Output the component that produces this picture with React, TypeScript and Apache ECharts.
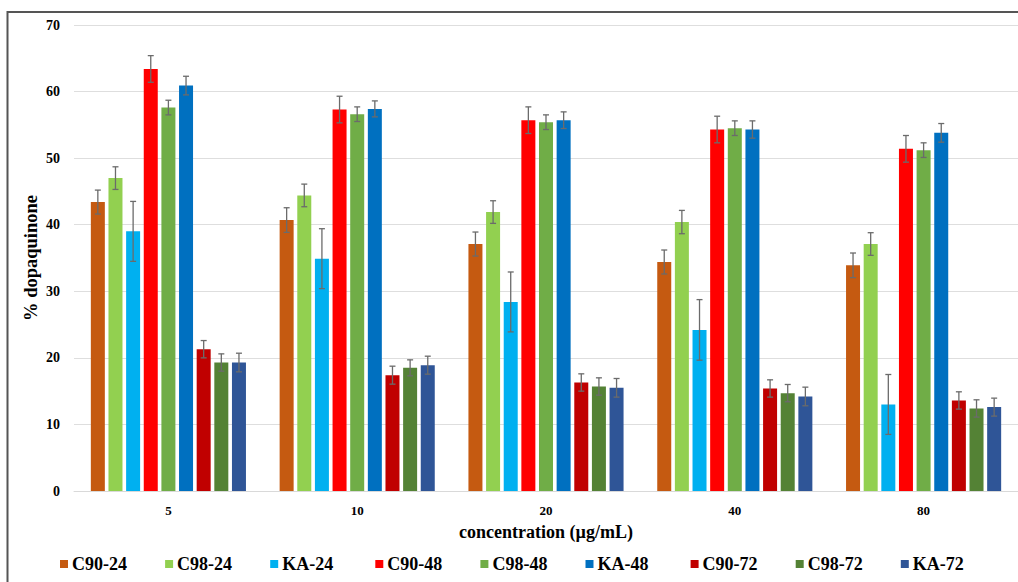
import React, { useEffect, useRef } from "react";
import * as echarts from "echarts";

const categories = ["5", "10", "20", "40", "80"];
const seriesNames = ["C90-24", "C98-24", "KA-24", "C90-48", "C98-48", "KA-48", "C90-72", "C98-72", "KA-72"];
const seriesColors = ["#C55A11", "#92D050", "#00B0F0", "#FF0000", "#70AD47", "#0070C0", "#C00000", "#548235", "#2F5597"];

const c90_24 = [43.4, 40.7, 37.1, 34.4, 33.9];
const c98_24 = [47.0, 44.4, 41.9, 40.4, 37.1];
const ka_24 = [39.0, 34.9, 28.4, 24.2, 13.0];
const c90_48 = [63.4, 57.3, 55.7, 54.3, 51.4];
const c98_48 = [57.6, 56.6, 55.4, 54.5, 51.2];
const ka_48 = [60.9, 57.4, 55.7, 54.3, 53.8];
const c90_72 = [21.3, 17.4, 16.3, 15.4, 13.6];
const c98_72 = [19.3, 18.5, 15.7, 14.7, 12.4];
const ka_72 = [19.3, 18.9, 15.5, 14.2, 12.6];

const err_c90_24 = [1.8, 1.85, 1.8, 1.8, 1.85];
const err_c98_24 = [1.7, 1.7, 1.7, 1.75, 1.7];
const err_ka_24 = [4.5, 4.5, 4.5, 4.55, 4.5];
const err_c90_48 = [2.0, 2.0, 2.0, 2.0, 2.0];
const err_c98_48 = [1.1, 1.1, 1.1, 1.1, 1.1];
const err_ka_48 = [1.4, 1.2, 1.25, 1.3, 1.4];
const err_c90_72 = [1.3, 1.35, 1.3, 1.3, 1.3];
const err_c98_72 = [1.3, 1.2, 1.3, 1.3, 1.3];
const err_ka_72 = [1.4, 1.35, 1.4, 1.4, 1.35];

const yTicks = [0, 10, 20, 30, 40, 50, 60, 70];

const values = [c90_24, c98_24, ka_24, c90_48, c98_48, ka_48, c90_72, c98_72, ka_72];
const errors = [err_c90_24, err_c98_24, err_ka_24, err_c90_48, err_c98_48, err_ka_48, err_c90_72, err_c98_72, err_ka_72];

const BAR_W = 14;
const BAR_GAP = 0.26;
const FONT = "Liberation Serif";
const LEGEND_LEFT = 60;
const LEGEND_STEP = 105.1;

export default function App() {
  const ref = useRef<HTMLDivElement>(null);
  useEffect(() => {
    if (!ref.current) return;
    const chart = echarts.init(ref.current, null, { renderer: "svg" });
    const step = BAR_W * (1 + BAR_GAP);
    const errData: number[][] = [];
    values.forEach((vals, s) => {
      vals.forEach((v, c) => {
        errData.push([c, v, errors[s][c], s]);
      });
    });
    const barSeries = seriesNames.map((name, i) => ({
      name,
      type: "bar",
      data: values[i],
      barWidth: BAR_W,
      barGap: BAR_GAP * 100 + "%",
      itemStyle: { color: seriesColors[i] },
      z: 2,
    }));
    const legends = seriesNames.map((name, i) => ({
      data: [name],
      left: LEGEND_LEFT + i * LEGEND_STEP,
      top: 555,
      itemWidth: 8,
      itemHeight: 8,
      itemGap: 0,
      icon: "rect",
      padding: 0,
      textStyle: {
        fontFamily: FONT,
        fontWeight: "bold",
        fontSize: 18,
        color: "#000",
        padding: [0, 0, 0, -1],
      },
    }));
    const option = {
      animation: false,
      backgroundColor: "#ffffff",
      grid: { left: 74, right: -2, top: 25, bottom: 91, containLabel: false },
      graphic: [
        {
          type: "rect",
          shape: { x: 7.5, y: 12, width: 1200, height: 800 },
          style: { fill: "none", stroke: "#555555", lineWidth: 2 },
          silent: true,
          z: 100,
        },
      ],
      legend: legends,
      xAxis: {
        type: "category",
        data: categories,
        name: "concentration (µg/mL)",
        nameLocation: "middle",
        nameGap: 32,
        nameMoveOverlap: false,
        nameTextStyle: { fontFamily: FONT, fontWeight: "bold", fontSize: 18, color: "#000" },
        axisLine: { lineStyle: { color: "#d9d9d9" } },
        axisTick: { show: false },
        axisLabel: { fontFamily: FONT, fontWeight: "bold", fontSize: 13, color: "#000", margin: 13 },
      },
      yAxis: {
        type: "value",
        min: 0,
        max: 70,
        interval: 10,
        name: "% dopaquinone",
        nameLocation: "middle",
        nameGap: 34,
        nameMoveOverlap: false,
        nameTextStyle: { fontFamily: FONT, fontWeight: "bold", fontSize: 18.5, color: "#000" },
        axisLine: { show: false },
        axisTick: { show: false },
        splitLine: { lineStyle: { color: "#dedede" } },
        axisLabel: {
          fontFamily: FONT,
          fontWeight: "bold",
          fontSize: 14,
          color: "#000",
          margin: 14,
          formatter: (v: number) => (yTicks.includes(v) ? String(v) : ""),
        },
      },
      series: [
        ...barSeries,
        {
          type: "custom",
          name: "errors",
          data: errData,
          z: 10,
          encode: { x: 0, y: 1 },
          renderItem: (_params: any, api: any) => {
            const c = api.value(0);
            const v = api.value(1);
            const e = api.value(2);
            const s = api.value(3);
            const base = api.coord([c, v]);
            const x = base[0] + (s - 4) * step;
            const yTop = api.coord([c, v + e])[1];
            const yBot = api.coord([c, v - e])[1];
            const cap = 3;
            const st = { stroke: "#6b6b6b", lineWidth: 1.3 };
            return {
              type: "group",
              children: [
                { type: "line", shape: { x1: x, y1: yTop, x2: x, y2: yBot }, style: st },
                { type: "line", shape: { x1: x - cap, y1: yTop, x2: x + cap, y2: yTop }, style: st },
                { type: "line", shape: { x1: x - cap, y1: yBot, x2: x + cap, y2: yBot }, style: st },
              ],
            };
          },
        },
      ],
    };
    chart.setOption(option as any);
    return () => chart.dispose();
  }, []);
  return (
    <div
      ref={ref}
      style={{ position: "absolute", left: 0, top: 0, width: 1018, height: 582 }}
    />
  );
}
